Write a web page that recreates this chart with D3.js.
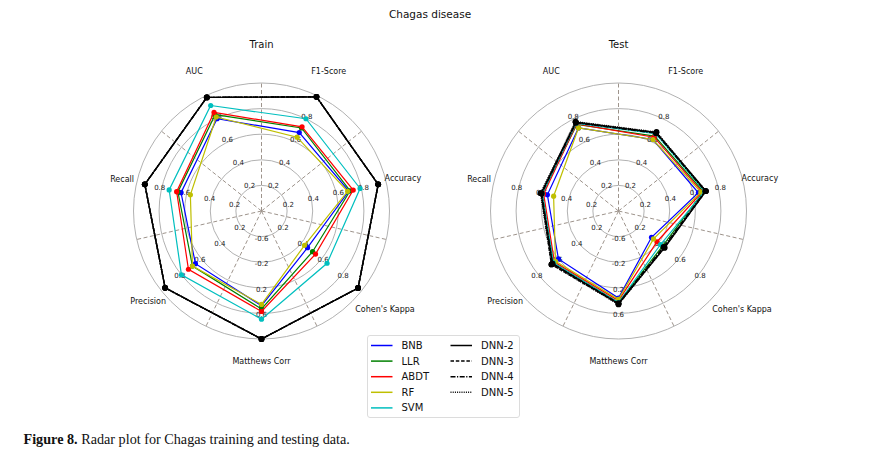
<!DOCTYPE html>
<html><head><meta charset="utf-8">
<script src="https://cdn.jsdelivr.net/npm/d3@7"></script>
<style>
body{margin:0;background:#fff;}
svg{display:block;}
</style>
</head><body>
<svg id="chart" width="874" height="450"></svg>
<script>
// ---------- data ----------
const categories = ["AUC","F1-Score","Accuracy","Cohen's Kappa","Matthews Corr","Precision","Recall"];
const axisRanges = [[0,1],[0,1],[0,1],[0,1],[-1,1],[0,1],[0,1]];
const tickLabels = ["0.2","0.4","0.6","0.8"];
const mccTickLabels = ["-0.6","-0.2","0.2","0.6"];
const models = ["BNB","LLR","ABDT","RF","SVM","DNN-2","DNN-3","DNN-4","DNN-5"];

// Train values (order of categories)
const train_BNB  = [0.80, 0.68, 0.70, 0.46, 0.48, 0.66, 0.645];
const train_LLR  = [0.835,0.72, 0.71, 0.51, 0.53, 0.69, 0.67];
const train_ABDT = [0.855,0.73, 0.735,0.54, 0.57, 0.73, 0.68];
const train_RF   = [0.815,0.64, 0.69, 0.43, 0.46, 0.69, 0.57];
const train_SVM  = [0.915,0.80, 0.79, 0.655,0.69, 0.80, 0.74];
const train_DNN2 = [0.985,0.99, 0.935,0.965,1.00, 0.963,0.935];
const train_DNN3 = [0.985,0.99, 0.935,0.965,1.00, 0.963,0.935];
const train_DNN4 = [0.985,0.99, 0.935,0.965,1.00, 0.963,0.935];
const train_DNN5 = [0.985,0.99, 0.935,0.965,1.00, 0.963,0.935];

// Test values
const test_BNB  = [0.72, 0.62, 0.64, 0.33, 0.36, 0.60, 0.57];
const test_LLR  = [0.75, 0.65, 0.68, 0.44, 0.43, 0.65, 0.61];
const test_ABDT = [0.755,0.64, 0.67, 0.385,0.40, 0.64, 0.60];
const test_RF   = [0.72, 0.62, 0.66, 0.35, 0.38, 0.63, 0.52];
const test_SVM  = [0.76, 0.67, 0.69, 0.42, 0.43, 0.65, 0.61];
const test_DNN2 = [0.77, 0.68, 0.70, 0.46, 0.45, 0.66, 0.62];
const test_DNN3 = [0.77, 0.68, 0.70, 0.455,0.45, 0.67, 0.62];
const test_DNN4 = [0.765,0.675,0.695,0.45, 0.44, 0.66, 0.615];
const test_DNN5 = [0.775,0.685,0.70, 0.46, 0.46, 0.67, 0.625];

const trainSeries = [train_BNB,train_LLR,train_ABDT,train_RF,train_SVM,train_DNN2,train_DNN3,train_DNN4,train_DNN5];
const testSeries  = [test_BNB,test_LLR,test_ABDT,test_RF,test_SVM,test_DNN2,test_DNN3,test_DNN4,test_DNN5];

// ---------- styles ----------
const colors = ["#0000ff","#008000","#ff0000","#bfbf00","#00bfbf","#000000","#000000","#000000","#000000"];
const dashArr = [null,null,null,null,null,null,"3.5,1.8","5,1.5,1.2,1.5","1,1.2"];
const labelRadius = [155,155,145,158,150,145,143];

const svg = d3.select("#chart");
const R = 128;
const font = "DejaVu Sans, sans-serif";
const nAx = categories.length;
const angle = i => -Math.PI/nAx + i*2*Math.PI/nAx;

svg.append("text").attr("x",430).attr("y",18).attr("text-anchor","middle")
  .attr("font-family",font).attr("font-size",10.5).attr("fill","#111").text("Chagas disease");

function radar(cx, cy, title, series){
  const g = svg.append("g").attr("transform",`translate(${cx},${cy})`);
  g.append("text").attr("x",0).attr("y",-163).attr("text-anchor","middle")
    .attr("font-family",font).attr("font-size",10).attr("fill","#111").text(title);

  const ringScale = d3.scaleLinear().domain([0,5]).range([0,R]);
  g.selectAll("circle.ring").data(d3.range(1,6)).join("circle")
    .attr("r",d=>ringScale(d)).attr("fill","none").attr("stroke","#a8a8a8").attr("stroke-width",0.9);
  g.selectAll("line.spoke").data(d3.range(nAx)).join("line")
    .attr("x1",0).attr("y1",0)
    .attr("x2",d=>R*Math.sin(d*2*Math.PI/nAx)).attr("y2",d=>-R*Math.cos(d*2*Math.PI/nAx))
    .attr("stroke","#9e948c").attr("stroke-width",1).attr("stroke-dasharray","4,2.5");

  const scales = axisRanges.map(rg => d3.scaleLinear().domain(rg).range([0,R]));

  categories.forEach((c,i)=>{
    const labs = axisRanges[i][0] < 0 ? mccTickLabels : tickLabels;
    const a = angle(i);
    labs.forEach(l=>{
      const r = scales[i](+l) + 2;
      g.append("text").attr("x",r*Math.sin(a)).attr("y",-r*Math.cos(a))
        .attr("text-anchor","middle").attr("dominant-baseline","central")
        .attr("font-family",font).attr("font-size",7).attr("fill","#222").text(l);
    });
    const lr = labelRadius[i];
    g.append("text").attr("x",lr*Math.sin(a)).attr("y",-lr*Math.cos(a))
      .attr("text-anchor","middle").attr("dominant-baseline","central")
      .attr("font-family",font).attr("font-size",8).attr("fill","#111").text(c);
  });

  const line = d3.lineRadial()
    .angle((d,i)=>angle(i))
    .radius((d,i)=>scales[i](d))
    .curve(d3.curveLinearClosed);

  series.forEach((vals,k)=>{
    const isDNN = k>=5;
    g.append("path").attr("d",line(vals)).attr("fill","none")
      .attr("stroke",colors[k]).attr("stroke-width",isDNN?1.4:1.2)
      .attr("stroke-dasharray",dashArr[k]);
    g.selectAll(null).data(vals).join("circle")
      .attr("cx",(d,i)=>scales[i](d)*Math.sin(angle(i)))
      .attr("cy",(d,i)=>-scales[i](d)*Math.cos(angle(i)))
      .attr("r",isDNN?2.9:2.6).attr("fill",colors[k]);
  });
}

radar(261.5, 211, "Train", trainSeries);
radar(618.5, 211, "Test", testSeries);

// legend
const lg = svg.append("g");
lg.append("rect").attr("x",367.5).attr("y",335.5).attr("width",152).attr("height",82)
  .attr("rx",2.5).attr("fill","#fff").attr("fill-opacity",0.85).attr("stroke","#d8d8d8").attr("stroke-width",0.9);
models.forEach((m,k)=>{
  const col = k<5?0:1, row = k<5?k:k-5;
  const x0 = col===0?371:450.5, y0 = 345.5 + row*15.6;
  lg.append("line").attr("x1",x0).attr("x2",x0+21.5).attr("y1",y0).attr("y2",y0)
    .attr("stroke",colors[k]).attr("stroke-width",1.5).attr("stroke-dasharray",dashArr[k]);
  lg.append("text").attr("x",x0+30.5).attr("y",y0).attr("dominant-baseline","central")
    .attr("font-family",font).attr("font-size",10).attr("fill","#111").text(m);
});

// caption
const cap = svg.append("text").attr("x",23.5).attr("y",444)
  .attr("font-family","Liberation Serif, serif").attr("font-size",14.2).attr("fill","#111");
cap.append("tspan").attr("font-weight","bold").text("Figure 8.");
cap.append("tspan").text(" Radar plot for Chagas training and testing data.");
</script>
</body></html>
